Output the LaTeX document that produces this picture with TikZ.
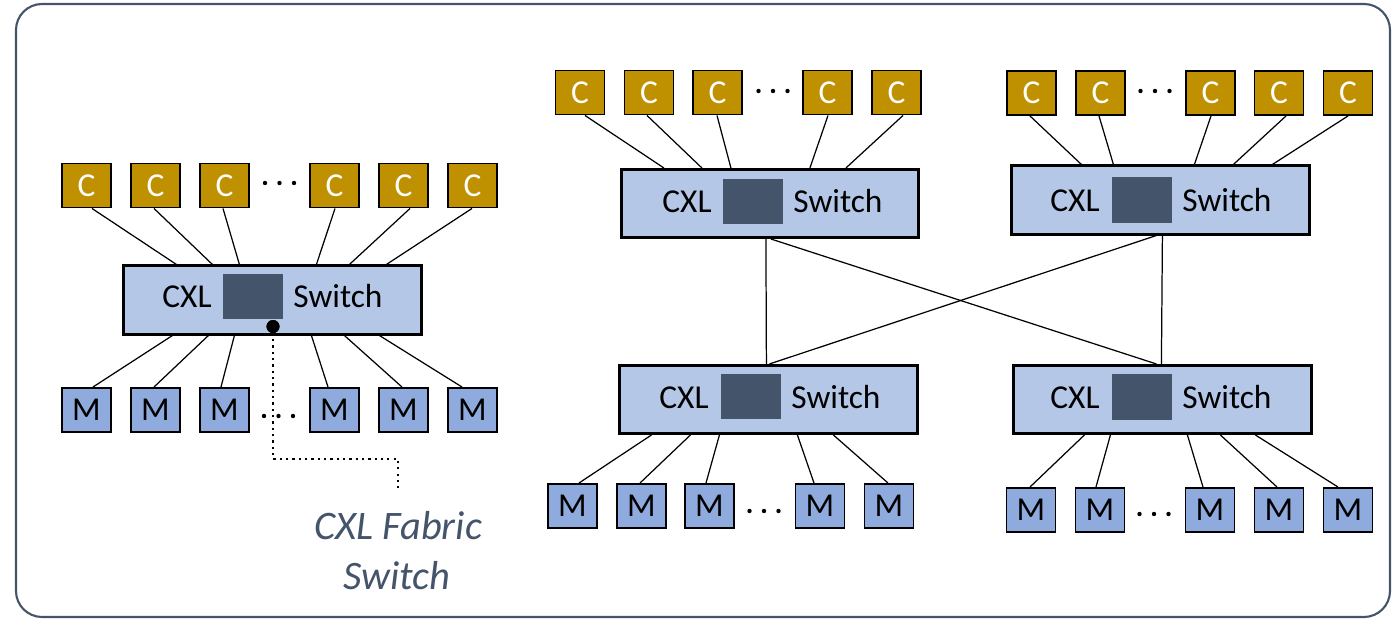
\documentclass[tikz,border=0pt]{standalone}
\usepackage{fontspec}
\setmainfont{Carlito}
\usetikzlibrary{calc}
\definecolor{cpugold}{HTML}{BF9000}
\definecolor{memblue}{HTML}{8FAADC}
\definecolor{swfill}{HTML}{B4C7E7}
\definecolor{slate}{HTML}{44546A}
\tikzset{
  cpu/.style={draw=black, line width=0.55pt, fill=cpugold, text=white,
    minimum width=0.49cm, minimum height=0.44cm, inner sep=0pt,
    font=\fontsize{9.5}{11}\selectfont},
  mem/.style={cpu, fill=memblue, text=black},
  swbox/.style={draw=black, line width=0.85pt, fill=swfill,
    minimum width=2.97cm, minimum height=0.68cm, inner sep=0pt},
  chip/.style={fill=slate, minimum width=0.60cm, minimum height=0.45cm, inner sep=0pt},
  swtext/.style={anchor=base, inner sep=0pt, font=\fontsize{9.5}{11}\selectfont},
  link/.style={line width=0.35pt, black},
  fabricline/.style={line width=0.6pt, dash pattern=on 0.6pt off 1.2pt},
  fabrictext/.style={anchor=base, inner sep=0pt, text=slate,
    font=\fontsize{11.5}{14}\selectfont\itshape}
}
\begin{document}
\begin{tikzpicture}[x=0.01cm, y=-0.01cm]
\useasboundingbox (0,0) rectangle (1396,619);
% outer frame
\draw[slate, line width=0.6pt, rounded corners=0.26cm] (16,4) rectangle (1390,617);

% ---------- single-switch fabric ----------
\node[swbox] (lsw) at (272.5,300) {};
\node[chip] (lchip) at (253,296.5) {};
\node[swtext] (lcxl) at (187,308) {CXL};
\node[swtext] (lswt) at (338,308) {Switch};
\foreach \i/\x in {1/86.5,2/155.5,3/224.5,4/334.5,5/403.5,6/472.5} {
  \node[cpu] (lc\i) at (\x,185.5) {C};
  \node[mem] (lm\i) at (\x,410) {M};
}
\foreach \i/\a/\b in {1/5.5/54, 2/-1.5/90, 3/-1.5/117, 4/0.5/194, 5/6.5/227, 6/-0.5/264}
  \draw[link] ($(lc\i.south)+(\a,0)$) -- ($(lsw.north west)+(\b,0)$);
\foreach \i/\a/\b in {1/6.5/50, 2/-1.5/86, 3/-3.5/112, 4/-6.5/189, 5/-1.5/222, 6/-10.5/257}
  \draw[link] ($(lsw.south west)+(\b,0)$) -- ($(lm\i.north)+(\a,0)$);

% fabric switch callout
\node[circle, fill=black, inner sep=0pt, minimum size=0.13cm] (fdot) at ($(lsw.south)+(0.5,-9)$) {};
\coordinate (fbend) at (398,459);
\coordinate (fend) at (398,489);
\draw[fabricline] (fdot.center) |- (fbend) -- (fend);
\node[circle, fill=black, inner sep=0pt, minimum size=0.13cm] at (fdot) {};
\node[fabrictext] (fab1) at (398,540) {CXL Fabric};
\node[fabrictext] (fab2) at (397,590) {Switch};

% ---------- two-level fabric ----------
\node[swbox] (tlsw) at (770,203.5) {};
\node[chip] at (753,201.5) {};
\node[swtext] at (687,213) {CXL};
\node[swtext] at (838,213) {Switch};

\node[swbox] (trsw) at (1160.5,200) {};
\node[chip] at (1142,200) {};
\node[swtext] at (1075,212) {CXL};
\node[swtext] at (1227,212) {Switch};

\node[swbox] (blsw) at (768.5,399.5) {};
\node[chip] at (751,396.5) {};
\node[swtext] at (684,409) {CXL};
\node[swtext] at (836,409) {Switch};

\node[swbox] (brsw) at (1162.5,399.5) {};
\node[chip] at (1142,397) {};
\node[swtext] at (1075,409) {CXL};
\node[swtext] at (1227,409) {Switch};

\foreach \i/\x in {1/580,2/649,3/717.5,4/827.5,5/896.5}
  \node[cpu] (tlc\i) at (\x,92.5) {C};
\foreach \i/\x in {1/1031.5,2/1100.5,3/1210.5,4/1279,5/1348}
  \node[cpu] (trc\i) at (\x,93) {C};
\foreach \i/\x in {1/572.5,2/641.5,3/709.5,4/820,5/889}
  \node[mem] (blm\i) at (\x,506) {M};
\foreach \i/\x in {1/1031,2/1100,3/1210,4/1279,5/1348}
  \node[mem] (brm\i) at (\x,510) {M};

\foreach \i/\a/\b in {1/5/44, 2/-2/82, 3/-0.5/111, 4/0.5/190, 5/6.5/226}
  \draw[link] ($(tlc\i.south)+(\a,0)$) -- ($(tlsw.north west)+(\b,0)$);
\foreach \i/\a/\b in {1/-1.5/71, 2/-1.5/103, 3/0.5/184, 4/7/223, 5/0/262}
  \draw[link] ($(trc\i.south)+(\a,0)$) -- ($(trsw.north west)+(\b,0)$);
\foreach \i/\a/\b in {1/6.5/33, 2/-1.5/72, 3/-3.5/101, 4/-6/179, 5/-1/215}
  \draw[link] ($(blsw.south west)+(\b,0)$) -- ($(blm\i.north)+(\a,0)$);
\foreach \i/\a/\b in {1/-1/72, 2/-4/98, 3/-7/175, 4/-2/208, 5/-10/243}
  \draw[link] ($(brsw.south west)+(\b,0)$) -- ($(brm\i.north)+(\a,0)$);

% spine links between the two levels
\draw[link] ($(tlsw.south west)+(146,0)$) -- ($(blsw.north west)+(148,0)$);
\draw[link] ($(tlsw.south west)+(151,0)$) -- ($(brsw.north west)+(144,0)$);
\draw[link] ($(trsw.south west)+(152,0)$) -- ($(brsw.north west)+(149,0)$);
\draw[link] ($(trsw.south west)+(146,0)$) -- ($(blsw.north west)+(151,0)$);

% ellipses between elided devices
\foreach \cx/\cy in {279.5/183, 278.5/416, 773/91, 1155/91, 764/511, 1154/514}
  \foreach \d in {-14.5,0,14.5}
    \fill ($(\cx,\cy)+(\d,0)$) circle[radius=0.022cm];
\end{tikzpicture}
\end{document}
